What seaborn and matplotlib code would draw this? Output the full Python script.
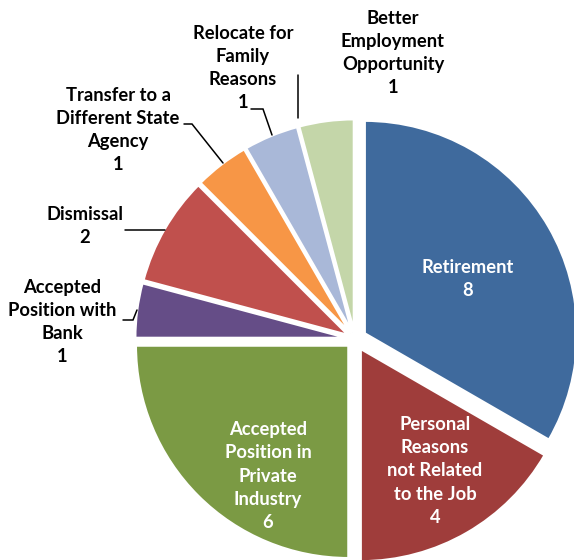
import matplotlib
matplotlib.use("Agg")
import matplotlib.pyplot as plt
import seaborn as sns
import numpy as np

categories = ["Retirement", "Personal Reasons\nnot Related\nto the Job", "Accepted\nPosition in\nPrivate\nIndustry",
              "Accepted\nPosition with\nBank", "Dismissal", "Transfer to a\nDifferent State\nAgency",
              "Relocate for\nFamily\nReasons", "Better\nEmployment\nOpportunity"]
values = [8, 4, 6, 1, 2, 1, 1, 1]
colors = ["#3F6A9D", "#9F3D3B", "#7B9A44", "#654D87", "#C0504D", "#F79646", "#A9B8D8", "#C4D6A9"]

sns.set_theme(style="white")
plt.rcParams['font.family'] = ['Lato', 'DejaVu Sans']

W, H = 574, 560
fig = plt.figure(figsize=(W / 100, H / 100), dpi=100)
ax = fig.add_axes([0, 0, 1, 1])

cx, cy, R = 355, 560 - 339, 213
explode = [11, 11, 9, 7, 7, 7, 7, 7]
wedges, _ = ax.pie(values, colors=colors, startangle=90, counterclock=False,
                   explode=explode, center=(cx, cy), radius=R,
                   wedgeprops=dict(edgecolor="white", linewidth=2), frame=True)
ax.set_xlim(0, W)
ax.set_ylim(0, H)
ax.set_aspect('equal')
ax.axis('off')

fs = 13.2
ls = 1.43

def txt(x, y, s, color="black", ha="center"):
    ax.text(x, H - y, s, ha=ha, va="center", fontsize=fs, fontweight="bold",
            color=color, linespacing=ls)

# inside labels
txt(468, 279, f"Retirement\n{values[0]}", color="white")
txt(435, 471, f"Personal\nReasons\nnot Related\nto the Job\n{values[1]}", color="white")
txt(268, 476, f"Accepted\nPosition in\nPrivate\nIndustry\n{values[2]}", color="white")

# outside labels
txt(62, 322, f"Accepted\nPosition with\nBank\n{values[3]}")
txt(85, 226, f"Dismissal\n{values[4]}")
txt(118, 130, f"Transfer to a\nDifferent State\nAgency\n{values[5]}")
txt(243, 68, f"Relocate for\nFamily\nReasons\n{values[6]}")
txt(393, 53, f"Better\nEmployment\nOpportunity\n{values[7]}")

def leader(pts):
    xs = [p[0] for p in pts]
    ys = [H - p[1] for p in pts]
    ax.plot(xs, ys, color="black", lw=1.1, solid_joinstyle="miter")

leader([(123, 320), (133, 320), (137, 310)])
leader([(125, 230), (165, 230)])
leader([(184, 124), (192, 124), (223, 163)])
leader([(251, 109), (263, 109), (272, 135)])
leader([(298, 75), (298, 118)])

fig.savefig("out.png", dpi=100)
